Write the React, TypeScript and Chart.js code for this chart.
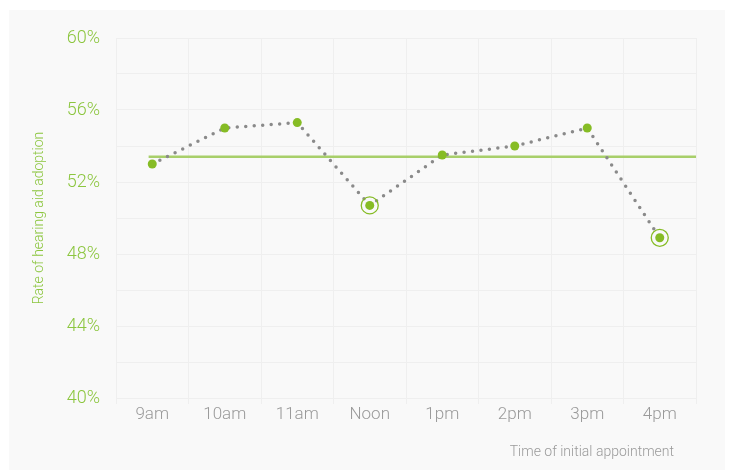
import React, { useEffect, useRef } from "react";
import { Chart, registerables } from "chart.js";

Chart.register(...registerables);

const categories = ["9am", "10am", "11am", "Noon", "1pm", "2pm", "3pm", "4pm"];
const adoptionRate = [53.0, 55.0, 55.3, 50.7, 53.5, 54.0, 55.0, 48.9];
const highlighted = [null, null, null, 50.7, null, null, null, 48.9];
const averageRate = 53.4;
const averageSpan = [-0.05, 7.5];
const yTicks = [40, 44, 48, 52, 56, 60];

const GREEN = "#86bc25";
const LIGHT_GREEN = "#a8cf6a";
const GRID = "#efefef";
const FONT = "Roboto, 'Open Sans', sans-serif";

const xTitlePlugin = {
  id: "xTitle",
  afterDraw(chart: any) {
    const { ctx, chartArea } = chart;
    ctx.save();
    ctx.font = `300 14px ${FONT}`;
    ctx.fillStyle = "#9a9a9a";
    ctx.textAlign = "right";
    ctx.textBaseline = "middle";
    ctx.fillText("Time of initial appointment", chartArea.right - 22, 442);
    ctx.restore();
  },
};

export default function App() {
  const ref = useRef<HTMLCanvasElement | null>(null);
  useEffect(() => {
    if (!ref.current) return;
    const chart = new Chart(ref.current, {
      type: "line",
      data: {
        labels: categories,
        datasets: [
          {
            label: "Highlight",
            data: highlighted,
            showLine: false,
            pointRadius: 8.5,
            pointBorderWidth: 1.3,
            pointBorderColor: GREEN,
            pointBackgroundColor: "rgba(0,0,0,0)",
            order: 0,
          },
          {
            label: "Rate",
            data: adoptionRate,
            borderColor: "#8a8a8a",
            borderWidth: 3.5,
            borderDash: [0, 8.5],
            borderCapStyle: "round",
            pointRadius: 4.5,
            pointBorderWidth: 0,
            pointBackgroundColor: GREEN,
            tension: 0,
            order: 1,
          },
          {
            label: "Average",
            data: averageSpan.map((x) => ({ x, y: averageRate })),
            xAxisID: "xAvg",
            borderColor: LIGHT_GREEN,
            borderWidth: 2.5,
            pointRadius: 0,
            order: 2,
          } as any,
        ],
      },
      options: {
        animation: false,
        responsive: false,
        layout: { padding: { left: 0, right: 29, top: 28, bottom: 0 } },
        plugins: { legend: { display: false }, tooltip: { enabled: false } },
        scales: {
          x: {
            type: "category",
            offset: true,
            grid: { color: GRID, offset: true, drawTicks: true, tickLength: 6, tickColor: GRID },
            border: { color: GRID },
            ticks: { color: "#9a9a9a", font: { family: FONT, size: 17, weight: "300" }, padding: 1 },
            afterFit: (s: any) => { s.height = 72; },
          },
          xAvg: {
            type: "linear",
            display: false,
            min: -0.5,
            max: 7.5,
          },
          y: {
            min: 40,
            max: 60,
            grid: { color: GRID, drawTicks: false },
            border: { color: GRID },
            ticks: {
              stepSize: 2,
              padding: 16,
              color: "#8cc63f",
              font: { family: FONT, size: 18, weight: "300" },
              callback: (v: any) => (yTicks.includes(Number(v)) ? `${v}%` : ""),
            },
            title: {
              display: true,
              text: "Rate of hearing aid adoption",
              color: "#8cc63f",
              font: { family: FONT, size: 14, weight: "300" },
              padding: { top: 22, bottom: 0 },
            },
            afterFit: (s: any) => { s.width = 107; },
          },
        },
      } as any,
      plugins: [xTitlePlugin],
    });
    return () => chart.destroy();
  }, []);
  return (
    <div style={{ position: "absolute", left: 9, top: 10, width: 716, height: 460, background: "#f9f9f9" }}>
      <canvas ref={ref} width={716} height={460} style={{ display: "block" }} />
    </div>
  );
}
